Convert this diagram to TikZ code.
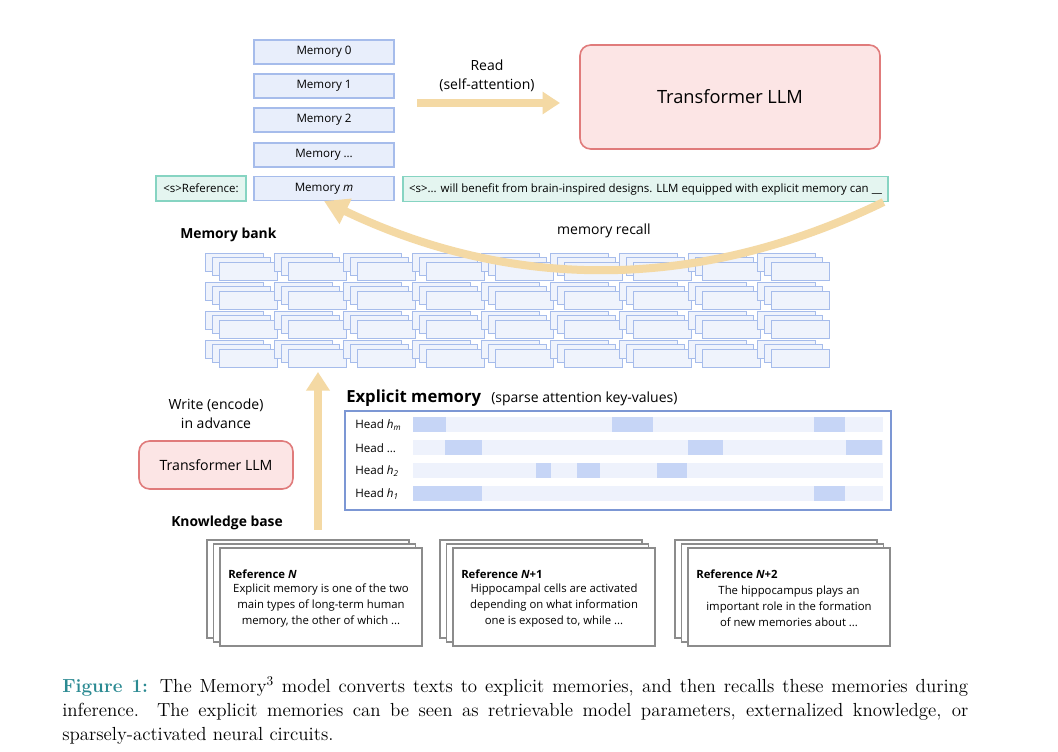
\documentclass[tikz,border=0pt]{standalone}
\usepackage{fontspec}
\setsansfont{Open Sans}
\usetikzlibrary{calc, arrows.meta}

\definecolor{arrowc}{HTML}{F4D9A4}
\definecolor{memfill}{HTML}{E8EEFB}
\definecolor{memdraw}{HTML}{A6BCEB}
\definecolor{bankfill}{HTML}{EFF3FC}
\definecolor{tealfill}{HTML}{E4F5F0}
\definecolor{tealdraw}{HTML}{86D4C2}
\definecolor{pinkfill}{HTML}{FCE5E5}
\definecolor{pinkdraw}{HTML}{E07B7B}
\definecolor{emdraw}{HTML}{7C97D4}
\definecolor{barc}{HTML}{EEF2FC}
\definecolor{blockc}{HTML}{C6D5F6}
\definecolor{cardc}{HTML}{8C8C8C}
\definecolor{capc}{HTML}{2B8A92}

\tikzset{
  membox/.style={draw=memdraw, fill=memfill, line width=0.8pt, minimum width=105pt,
    minimum height=18pt, inner sep=0pt, font=\sffamily\fontsize{8.7}{10}\selectfont},
  tealbox/.style={draw=tealdraw, fill=tealfill, line width=0.8pt, minimum height=18.75pt,
    inner sep=0pt, font=\sffamily\fontsize{8.6}{10}\selectfont},
  llmbox/.style={draw=pinkdraw, fill=pinkfill, line width=1.2pt, rounded corners=8pt, inner sep=0pt},
  fatarrow/.style={draw=arrowc, line width=6pt, -{Triangle[length=13pt, width=16pt]}},
  bankcell/.style={draw=memdraw, fill=bankfill, line width=0.7pt},
  headbar/.style={fill=barc},
  headblk/.style={fill=blockc},
  headlbl/.style={font=\sffamily\fontsize{8.7}{10}\selectfont, inner sep=0pt, anchor=west},
  card/.style={draw=cardc, fill=white, line width=1.1pt},
  refhead/.style={font=\sffamily\bfseries\fontsize{8.5}{10}\selectfont, inner sep=0pt, anchor=west},
  reftext/.style={font=\sffamily\fontsize{8.5}{12}\selectfont, inner sep=0pt, align=center},
  lbl/.style={font=\sffamily\fontsize{10.5}{14.25}\selectfont, inner sep=0pt},
  boldlbl/.style={font=\sffamily\bfseries\fontsize{10.4}{12}\selectfont, inner sep=0pt, anchor=west}
}

\begin{document}
\begin{tikzpicture}[x=0.75pt, y=-0.75pt]

\useasboundingbox (0,0) rectangle (1058,752);
\fill[white] (0,0) rectangle (1058,752);

% memory stack
  \node[membox] (mem0) at (324,52) {Memory 0};
  \node[membox] (mem1) at (324,86) {Memory 1};
  \node[membox] (mem2) at (324,120) {Memory 2};
  \node[membox] (mem3) at (324,155) {Memory \ldots};
  \node[membox] (memm) at (324,188.5) {Memory \textit{m}};

% context line
  \node[tealbox, minimum width=67.5pt] (ref) at (201,188.5) {<s>Reference:};
  \node[tealbox, minimum width=363.75pt] (sent) at (645.5,189)
    {<s>... will benefit from brain-inspired designs. LLM equipped with explicit memory can \_\_};

% big llm
  \node[llmbox, minimum width=225pt, minimum height=78pt,
    font=\sffamily\fontsize{13.7}{15}\selectfont] (tf) at (730,97) {Transformer LLM};

% read arrow
\coordinate (rd0) at (417,103);
\coordinate (rd1) at (560,103);
  \draw[fatarrow] (rd0) -- (rd1);
  \node[lbl, align=center] (read) at (487,76) {Read\\(self-attention)};

% memory bank
  \node[boldlbl] (bank) at (180,235) {Memory bank};
  \foreach \i in {0,...,8}
    \foreach \j in {0,...,3}
      \foreach \k in {0,1,2}
        \draw[bankcell] ({205+69*\i+7*\k},{253+29*\j+4.5*\k}) rectangle ++(58,18);

% recall arrow
  \draw[fatarrow, -{Triangle[length=18pt, width=20pt]}] ([xshift=-3.75pt]sent.south east)
    .. controls (698,292) and (512,291) .. (memm.south);
  \node[lbl] (recall) at (604,231) {memory recall};

% write arrow
\coordinate (wr0) at (318,530);
\coordinate (wr1) at (318,372);
  \draw[fatarrow, -{Triangle[length=14pt, width=17pt]}] (wr0) -- (wr1);
  \node[lbl, align=center] (write) at (216,414) {Write (encode)\\in advance};
  \node[llmbox, minimum width=115.5pt, minimum height=36pt,
    font=\sffamily\fontsize{10.6}{12}\selectfont] (tfs) at (216,465) {Transformer LLM};
  \node[boldlbl] (kb) at (171,523) {Knowledge base};

% explicit memory
  \node[anchor=base west, inner sep=0pt, font=\sffamily\bfseries\fontsize{12.5}{14}\selectfont]
    (emt) at (346,403) {Explicit memory};
  \node[anchor=base west, inner sep=0pt, font=\sffamily\fontsize{10.5}{12}\selectfont]
    (emsub) at (491,403) {(sparse attention key-values)};
  \draw[draw=emdraw, line width=1.5pt] (345,411) rectangle (891,510);

  \foreach \y/\h in {425/{\textit{h}\textsubscript{\textit{m}}}, 448/{\ldots},
      471/{\textit{h}\textsubscript{\textit{2}}}, 494/{\textit{h}\textsubscript{\textit{1}}}} {
    \fill[headbar] (413,{\y-7.5}) rectangle (883,{\y+7.5});
    \node[headlbl] (head\y) at (355,\y) {Head \h};
  }
  \foreach \y/\a/\b in {425/413/446, 425/612/653, 425/814/845,
      448/445/482, 448/688/723, 448/846/882,
      471/536/551, 471/577/600, 471/657/687,
      494/413/482, 494/814/845}
    \fill[headblk] (\a,{\y-7.5}) rectangle (\b,{\y+7.5});

% knowledge cards
  \foreach \dx in {0,233,468}
    \foreach \k in {0,1,2}
      \draw[card] ({207+\dx+6.5*\k},{540+4*\k}) rectangle ++(202,98);

  \node[refhead] (refN) at (228,574) {Reference \textit{N}};
  \node[reftext] (txtN) at (321,606)
    {Explicit memory is one of the two\\main types of long-term human\\memory, the other of which ...};
  \node[refhead] (refN1) at (461,574) {Reference \textit{N}+1};
  \node[reftext] (txtN1) at (554,606)
    {Hippocampal cells are activated\\depending on what information\\one is exposed to, while ...};
  \node[refhead] (refN2) at (696,574) {Reference \textit{N}+2};
  \node[reftext] (txtN2) at (789,606)
    {The hippocampus plays an\\important role in the formation\\of new memories about ...};

% caption
  \node[anchor=north west, inner sep=0pt, text width=679.5pt, align=justify,
    font=\fontsize{14.2}{18}\selectfont] (cap) at (62,677)
    {\textcolor{capc}{\textbf{Figure 1:}} The Memory$^3$ model converts texts to explicit memories, and then recalls these memories during\linebreak
    inference. The explicit memories can be seen as retrievable model parameters, externalized knowledge, or\linebreak
    sparsely-activated neural circuits.};

\end{tikzpicture}
\end{document}
